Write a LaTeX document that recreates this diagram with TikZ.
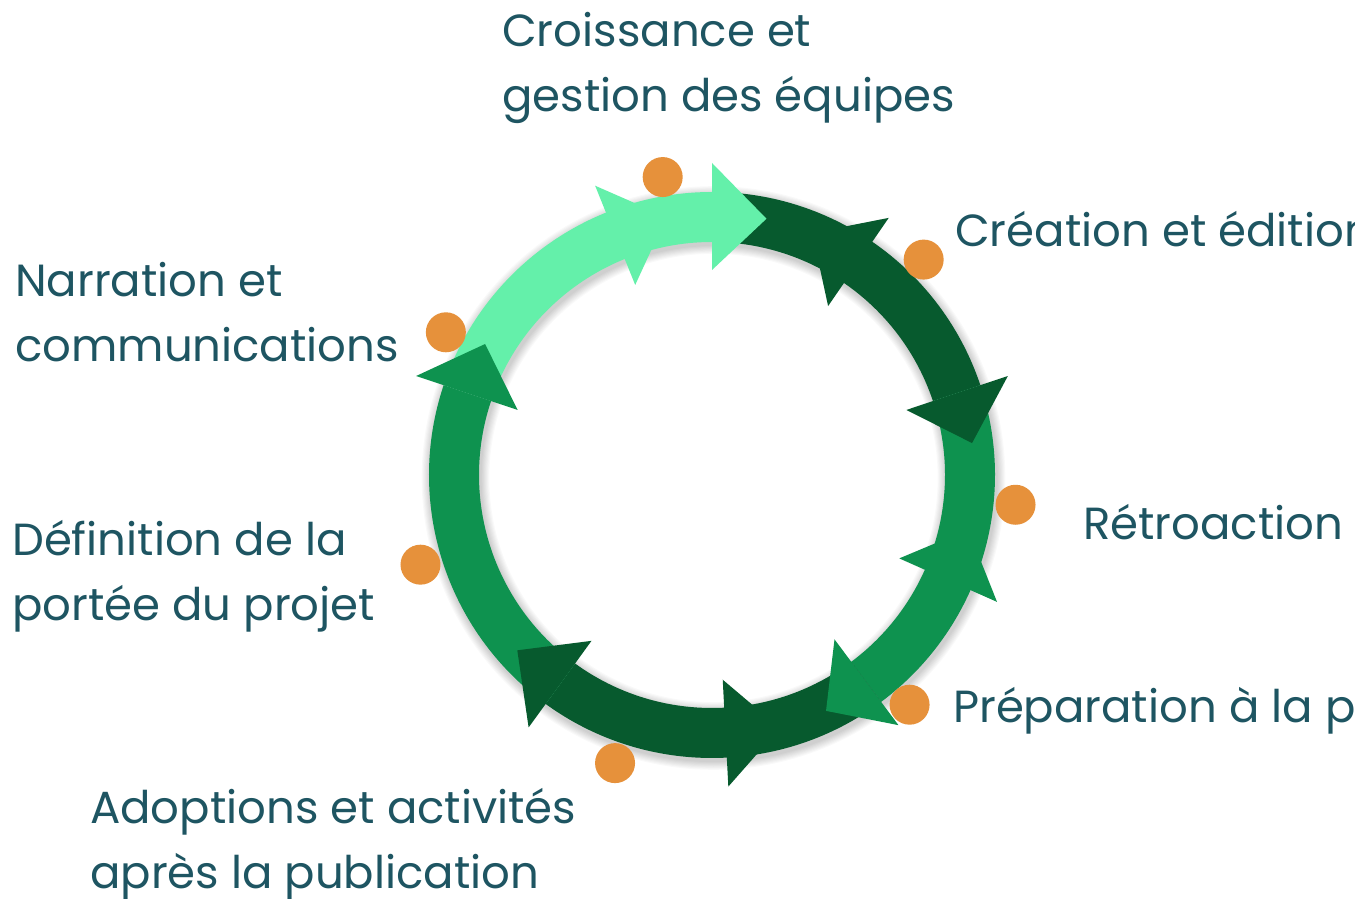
\documentclass[tikz,border=0pt]{standalone}
\usepackage{fontspec}
\setmainfont{Poppins}
\usetikzlibrary{calc}

\definecolor{lightg}{HTML}{64F0AA}
\definecolor{midg}{HTML}{0E924F}
\definecolor{darkg}{HTML}{075A2E}
\definecolor{dotc}{HTML}{E6913B}
\definecolor{txtc}{HTML}{1E5562}

% ring band between two angles
\newcommand{\ringband}[3]{%
  \fill[#3] (#1:233) arc[start angle=#1,end angle=#2,radius=233]
    -- (#2:283) arc[start angle=#2,end angle=#1,radius=283] -- cycle;}
% arrowhead: back edge at angle #1, tip at angle #2
\newcommand{\ringhead}[3]{%
  \fill[#3] (#1:205) -- (#2:262) -- (#1:312) -- cycle;}

\tikzset{
  label/.style={font=\fontsize{45}{65}\selectfont, text=txtc, align=left,
    inner sep=0pt, anchor=base west},
  marker/.style={circle, fill=dotc, minimum size=40pt, inner sep=0pt}
}

\begin{document}
\begin{tikzpicture}[x=1pt,y=1pt]
\useasboundingbox (0,0) rectangle (1355,898);
\clip (0,0) rectangle (1355,898);
\fill[white] (0,0) rectangle (1355,898);

\begin{scope}[shift={(712,423)}]
  % soft shadow under the ring
  \foreach \k [evaluate=\k as \lw using 50+2.2*\k] in {1,...,8}
    \draw[black, opacity=0.022, line width=\lw pt] (1.5,-3) circle (258);

  % ring segments
  \ringband{90}{161.5}{lightg}
  \ringband{18.5}{90}{darkg}
  \ringband{-53.3}{18.5}{midg}
  \ringband{-126}{-53.3}{darkg}
  \ringband{161.5}{234}{midg}

  % heads inside the segments
  \ringhead{112}{100}{lightg}
  \ringhead{55.5}{67.5}{darkg}
  \ringhead{-24}{-12}{midg}
  \ringhead{-87}{-75}{darkg}

  % heads at the segment ends
  \ringhead{161.5}{150}{midg}
  \ringhead{90}{78}{lightg}
  \ringhead{18.5}{7}{darkg}
  \ringhead{-53.3}{-64.2}{midg}
  \ringhead{-126}{-138}{darkg}

  % markers
  \node[marker] (m1) at (99.4:302) {};
  \node[marker] (m2) at (45.5:302) {};
  \node[marker] (m3) at (-5.6:305) {};
  \node[marker] (m4) at (-49.3:303) {};
  \node[marker] (m5) at (-108.6:304) {};
  \node[marker] (m6) at (-162.9:305) {};
  \node[marker] (m7) at (151.8:302) {};
\end{scope}

% labels (two-line labels are placed by the baseline of their last line)
\node[label] (t1) at (502,786) {Croissance et\\gestion des équipes};
\node[label] (t2) at (955,651) {Création et édition};
\node[label] (t3) at (1083,358) {Rétroaction};
\node[label] (t4) at (953,176) {Préparation à la publication};
\node[label] (t5) at (90,10) {Adoptions et activités\\après la publication};
\node[label] (t6) at (12,278) {Définition de la\\portée du projet};
\node[label] (t7) at (15,536) {Narration et\\communications};
\end{tikzpicture}
\end{document}
